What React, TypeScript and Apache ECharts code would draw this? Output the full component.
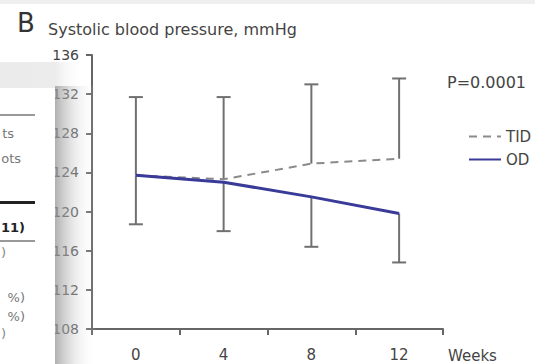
import React, { useEffect, useRef } from "react";
import * as echarts from "echarts";

const weeks = ["0", "4", "8", "12"];
const odMean = [123.7, 123.0, 121.5, 119.8];
const tidMean = [123.7, 123.3, 124.9, 125.4];
const tidUpper = [131.7, 131.7, 133.0, 133.6];
const odLower = [118.7, 118.0, 116.4, 114.8];
const yMin = 108;
const yMax = 136;
const yStep = 4;
const pValueText = "P=0.0001";
const fragments = [
  { text: "ts", right: 14, y: 133, color: "#777", bold: false },
  { text: "ots", right: 21, y: 158, color: "#777", bold: false },
  { text: "11)", right: 25, y: 227, color: "#222", bold: true },
  { text: ")", right: 6, y: 252, color: "#888", bold: false },
  { text: "%)", right: 25, y: 297, color: "#777", bold: false },
  { text: "%)", right: 25, y: 316, color: "#777", bold: false },
  { text: ")", right: 6, y: 333, color: "#888", bold: false },
];

const FONT = "DejaVu Sans";
const AXIS = "#666";
const BAR = "#707070";

function errorBarRenderer(params: any, api: any) {
  const i = api.value(0);
  const from = api.coord([i, api.value(1)]);
  const to = api.coord([i, api.value(2)]);
  const half = 7;
  const style = { stroke: BAR, lineWidth: 2 };
  return {
    type: "group",
    children: [
      { type: "line", shape: { x1: from[0], y1: from[1], x2: to[0], y2: to[1] }, style },
      { type: "line", shape: { x1: to[0] - half, y1: to[1], x2: to[0] + half, y2: to[1] }, style },
    ],
  };
}

export default function App() {
  const ref = useRef<HTMLDivElement>(null);
  useEffect(() => {
    if (!ref.current) return;
    const chart = echarts.init(ref.current, null, { renderer: "svg" });
    const overlay: any[] = [
      { type: "rect", z: 100, shape: { x: 0, y: 0, width: 535, height: 4 }, style: { fill: "#efefef" } },
      {
        type: "rect", z: 100, shape: { x: 0, y: 62, width: 85, height: 26 },
        style: {
          fill: new echarts.graphic.LinearGradient(0, 0, 1, 0, [
            { offset: 0, color: "#ebebeb" },
            { offset: 0.65, color: "#ececec" },
            { offset: 1, color: "rgba(255,255,255,0)" },
          ]),
        },
      },
      { type: "rect", z: 101, shape: { x: 0, y: 88, width: 55, height: 276 }, style: { fill: "#ffffff" } },
      {
        type: "rect", z: 100, shape: { x: 55, y: 86, width: 42, height: 278 },
        style: {
          fill: new echarts.graphic.LinearGradient(0, 0, 1, 0, [
            { offset: 0, color: "rgba(150,150,150,0.75)" },
            { offset: 0.5, color: "rgba(205,205,205,0.35)" },
            { offset: 1, color: "rgba(255,255,255,0)" },
          ]),
        },
      },
      { type: "rect", z: 102, shape: { x: 0, y: 114, width: 35, height: 2 }, style: { fill: "#999" } },
      { type: "rect", z: 102, shape: { x: 0, y: 201, width: 35, height: 3 }, style: { fill: "#222" } },
      { type: "rect", z: 102, shape: { x: 0, y: 240, width: 35, height: 2 }, style: { fill: "#999" } },
      ...fragments.map((f) => ({
        type: "text", z: 102, x: f.right, y: f.y,
        style: {
          text: f.text, fill: f.color, font: `${f.bold ? "bold " : ""}13px "${FONT}"`,
          textAlign: "right", textVerticalAlign: "middle",
        },
      })),
      {
        type: "text", z: 10, x: 17, y: 23,
        style: { text: "B", fill: "#333", font: `26px "${FONT}"`, textVerticalAlign: "middle" },
      },
      {
        type: "text", z: 10, x: 48, y: 29,
        style: { text: "Systolic blood pressure, mmHg", fill: "#444", font: `16px "${FONT}"`, textVerticalAlign: "middle" },
      },
      {
        type: "text", z: 10, x: 447, y: 82,
        style: { text: pValueText, fill: "#444", font: `16px "${FONT}"`, textVerticalAlign: "middle" },
      },
    ];
    chart.setOption({
      animation: false,
      backgroundColor: "#ffffff",
      grid: { left: 92, right: 92, top: 55, bottom: 35, containLabel: false },
      legend: {
        data: ["TID", "OD"],
        orient: "vertical",
        left: 463,
        top: 124,
        itemWidth: 32,
        itemHeight: 14,
        itemGap: 8,
        itemStyle: { opacity: 0 },
        textStyle: { fontFamily: FONT, fontSize: 15, color: "#444" },
      },
      xAxis: {
        type: "category",
        data: weeks,
        boundaryGap: true,
        name: "Weeks",
        nameLocation: "end",
        nameGap: 5,
        nameTextStyle: { fontFamily: FONT, fontSize: 15, color: "#444", verticalAlign: "top", padding: [19, 0, 0, 0] },
        axisLine: { lineStyle: { color: AXIS, width: 2 } },
        axisTick: { show: true, length: 6, lineStyle: { color: AXIS, width: 2 } },
        axisLabel: { fontFamily: FONT, fontSize: 15, color: "#444", margin: 18 },
        splitLine: { show: false },
      },
      yAxis: {
        type: "value",
        min: yMin,
        max: yMax,
        interval: yStep,
        axisLine: { show: true, lineStyle: { color: AXIS, width: 2 } },
        axisTick: { show: true, length: 6, lineStyle: { color: AXIS, width: 2 } },
        axisLabel: { fontFamily: FONT, fontSize: 14, color: "#444", margin: 13 },
        splitLine: { show: false },
      },
      series: [
        {
          name: "TID bars",
          type: "custom",
          renderItem: errorBarRenderer,
          data: tidMean.map((m, i) => [i, m, tidUpper[i]]),
          encode: { x: 0, y: [1, 2] },
          z: 1,
        },
        {
          name: "OD bars",
          type: "custom",
          renderItem: errorBarRenderer,
          data: odMean.map((m, i) => [i, m, odLower[i]]),
          encode: { x: 0, y: [1, 2] },
          z: 1,
        },
        {
          name: "TID",
          type: "line",
          data: tidMean,
          symbol: "none",
          showSymbol: false,
          itemStyle: { color: "#8a8a8a" },
          lineStyle: { color: "#8a8a8a", width: 2, type: [8, 6] },
          z: 2,
        },
        {
          name: "OD",
          type: "line",
          data: odMean,
          symbol: "none",
          showSymbol: false,
          itemStyle: { color: "#3a3a98" },
          lineStyle: { color: "#3a3a98", width: 3 },
          z: 3,
        },
      ],
      graphic: overlay,
    });
    return () => chart.dispose();
  }, []);
  return <div ref={ref} style={{ width: 535, height: 364, position: "absolute", left: 0, top: 0 }} />;
}
